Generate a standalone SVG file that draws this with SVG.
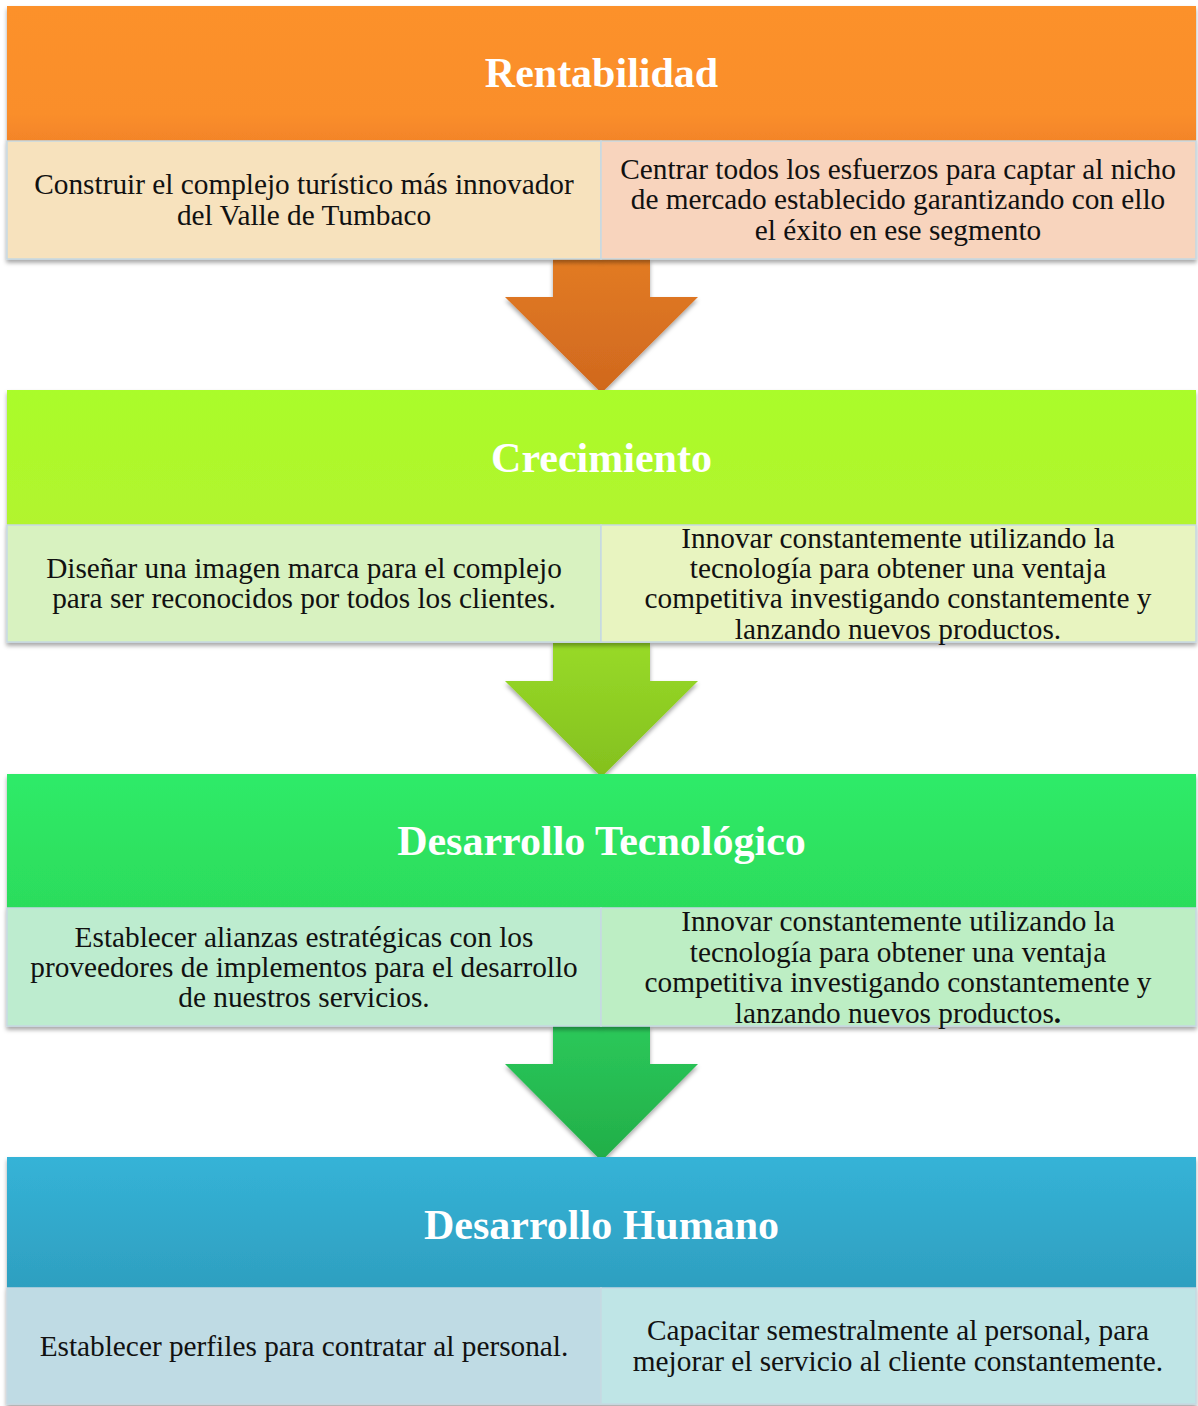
<svg xmlns="http://www.w3.org/2000/svg" width="1198" height="1406" viewBox="0 0 1198 1406">
<style>
.hd{font-family:"Liberation Serif","Times New Roman",serif;font-weight:bold;font-size:42px;fill:#ffffff;text-anchor:middle}
.tx{font-family:"Liberation Serif","Times New Roman",serif;font-size:29.3px;fill:#111111;text-anchor:middle}
.cell{stroke:#c6d9e2;stroke-width:1.5}
</style>
<defs>
<filter id="sh" x="-5%" y="-5%" width="110%" height="115%">
<feDropShadow dx="0" dy="3" stdDeviation="2.2" flood-color="#000" flood-opacity="0.35"/>
</filter>
<linearGradient id="g1" x1="0" y1="0" x2="0" y2="1"><stop offset="0" stop-color="#fc912c"/><stop offset="0.8" stop-color="#fa8e2b"/><stop offset="1" stop-color="#f38428"/></linearGradient>
<linearGradient id="g2" x1="0" y1="0" x2="0" y2="1"><stop offset="0" stop-color="#aafc2a"/><stop offset="1" stop-color="#b2f42e"/></linearGradient>
<linearGradient id="g3" x1="0" y1="0" x2="0" y2="1"><stop offset="0" stop-color="#2feb68"/><stop offset="1" stop-color="#2cdc5c"/></linearGradient>
<linearGradient id="g4" x1="0" y1="0" x2="0" y2="1"><stop offset="0" stop-color="#35b3d7"/><stop offset="1" stop-color="#2e9fc0"/></linearGradient>
<linearGradient id="a1" x1="0" y1="0" x2="0" y2="1"><stop offset="0" stop-color="#e27b24"/><stop offset="1" stop-color="#d0681e"/></linearGradient>
<linearGradient id="a2" x1="0" y1="0" x2="0" y2="1"><stop offset="0" stop-color="#98da28"/><stop offset="1" stop-color="#84c01e"/></linearGradient>
<linearGradient id="a3" x1="0" y1="0" x2="0" y2="1"><stop offset="0" stop-color="#2bc85a"/><stop offset="1" stop-color="#22ae48"/></linearGradient>
</defs>

<g id="connectors">
<polygon filter="url(#sh)" fill="url(#a1)" points="553,259 650,259 650,297 698,297 601.5,393 505,297 553,297"/>
<polygon filter="url(#sh)" fill="url(#a2)" points="553,643 650,643 650,681 698,681 601.5,777 505,681 553,681"/>
<polygon filter="url(#sh)" fill="url(#a3)" points="553,1026 650,1026 650,1064 698,1064 601.5,1161 505,1064 553,1064"/>
</g>

<g id="rentabilidad">
<g filter="url(#sh)">
<rect x="7" y="6" width="1189" height="135" fill="url(#g1)"/>
<rect class="cell" x="7" y="141" width="594" height="118" fill="#f7e2bd"/>
<rect class="cell" x="601" y="141" width="595" height="118" fill="#f8d4bd"/>
</g>
<text class="hd" x="601.5" y="87">Rentabilidad</text>
<text class="tx" x="304" y="194">Construir el complejo turístico más innovador</text>
<text class="tx" x="304" y="225">del Valle de Tumbaco</text>
<text class="tx" x="898" y="179">Centrar todos los esfuerzos para captar al nicho</text>
<text class="tx" x="898" y="209">de mercado establecido garantizando con ello</text>
<text class="tx" x="898" y="240">el éxito en ese segmento</text>
</g>

<g id="crecimiento">
<g filter="url(#sh)">
<rect x="7" y="390" width="1189" height="135" fill="url(#g2)"/>
<rect class="cell" x="7" y="525" width="594" height="117" fill="#d8f2c0"/>
<rect class="cell" x="601" y="525" width="595" height="117" fill="#e8f4c0"/>
</g>
<text class="hd" x="601.5" y="472">Crecimiento</text>
<text class="tx" x="304" y="578">Diseñar una imagen marca para el complejo</text>
<text class="tx" x="304" y="608">para ser reconocidos por todos los clientes.</text>
<text class="tx" x="898" y="548">Innovar constantemente utilizando la</text>
<text class="tx" x="898" y="578">tecnología para obtener una ventaja</text>
<text class="tx" x="898" y="608">competitiva investigando constantemente y</text>
<text class="tx" x="898" y="639">lanzando nuevos productos.</text>
</g>

<g id="desarrollo-tecnologico">
<g filter="url(#sh)">
<rect x="7" y="774" width="1189" height="134" fill="url(#g3)"/>
<rect class="cell" x="7" y="908" width="594" height="118" fill="#bdeccf"/>
<rect class="cell" x="601" y="908" width="595" height="118" fill="#bdeec4"/>
</g>
<text class="hd" x="601.5" y="855">Desarrollo Tecnológico</text>
<text class="tx" x="304" y="947">Establecer alianzas estratégicas con los</text>
<text class="tx" x="304" y="977">proveedores de implementos para el desarrollo</text>
<text class="tx" x="304" y="1007">de nuestros servicios.</text>
<text class="tx" x="898" y="931">Innovar constantemente utilizando la</text>
<text class="tx" x="898" y="962">tecnología para obtener una ventaja</text>
<text class="tx" x="898" y="992">competitiva investigando constantemente y</text>
<text class="tx" x="898" y="1023">lanzando nuevos productos<tspan font-weight="bold">.</tspan></text>
</g>

<g id="desarrollo-humano">
<g filter="url(#sh)">
<rect x="7" y="1157" width="1189" height="131" fill="url(#g4)"/>
<rect class="cell" x="7" y="1288" width="594" height="116" fill="#bfdbe4"/>
<rect class="cell" x="601" y="1288" width="595" height="116" fill="#bfe5e6"/>
</g>
<text class="hd" x="601.5" y="1239">Desarrollo Humano</text>
<text class="tx" x="304" y="1356">Establecer perfiles para contratar al personal.</text>
<text class="tx" x="898" y="1340">Capacitar semestralmente al personal, para</text>
<text class="tx" x="898" y="1371">mejorar el servicio al cliente constantemente.</text>
</g>
</svg>
